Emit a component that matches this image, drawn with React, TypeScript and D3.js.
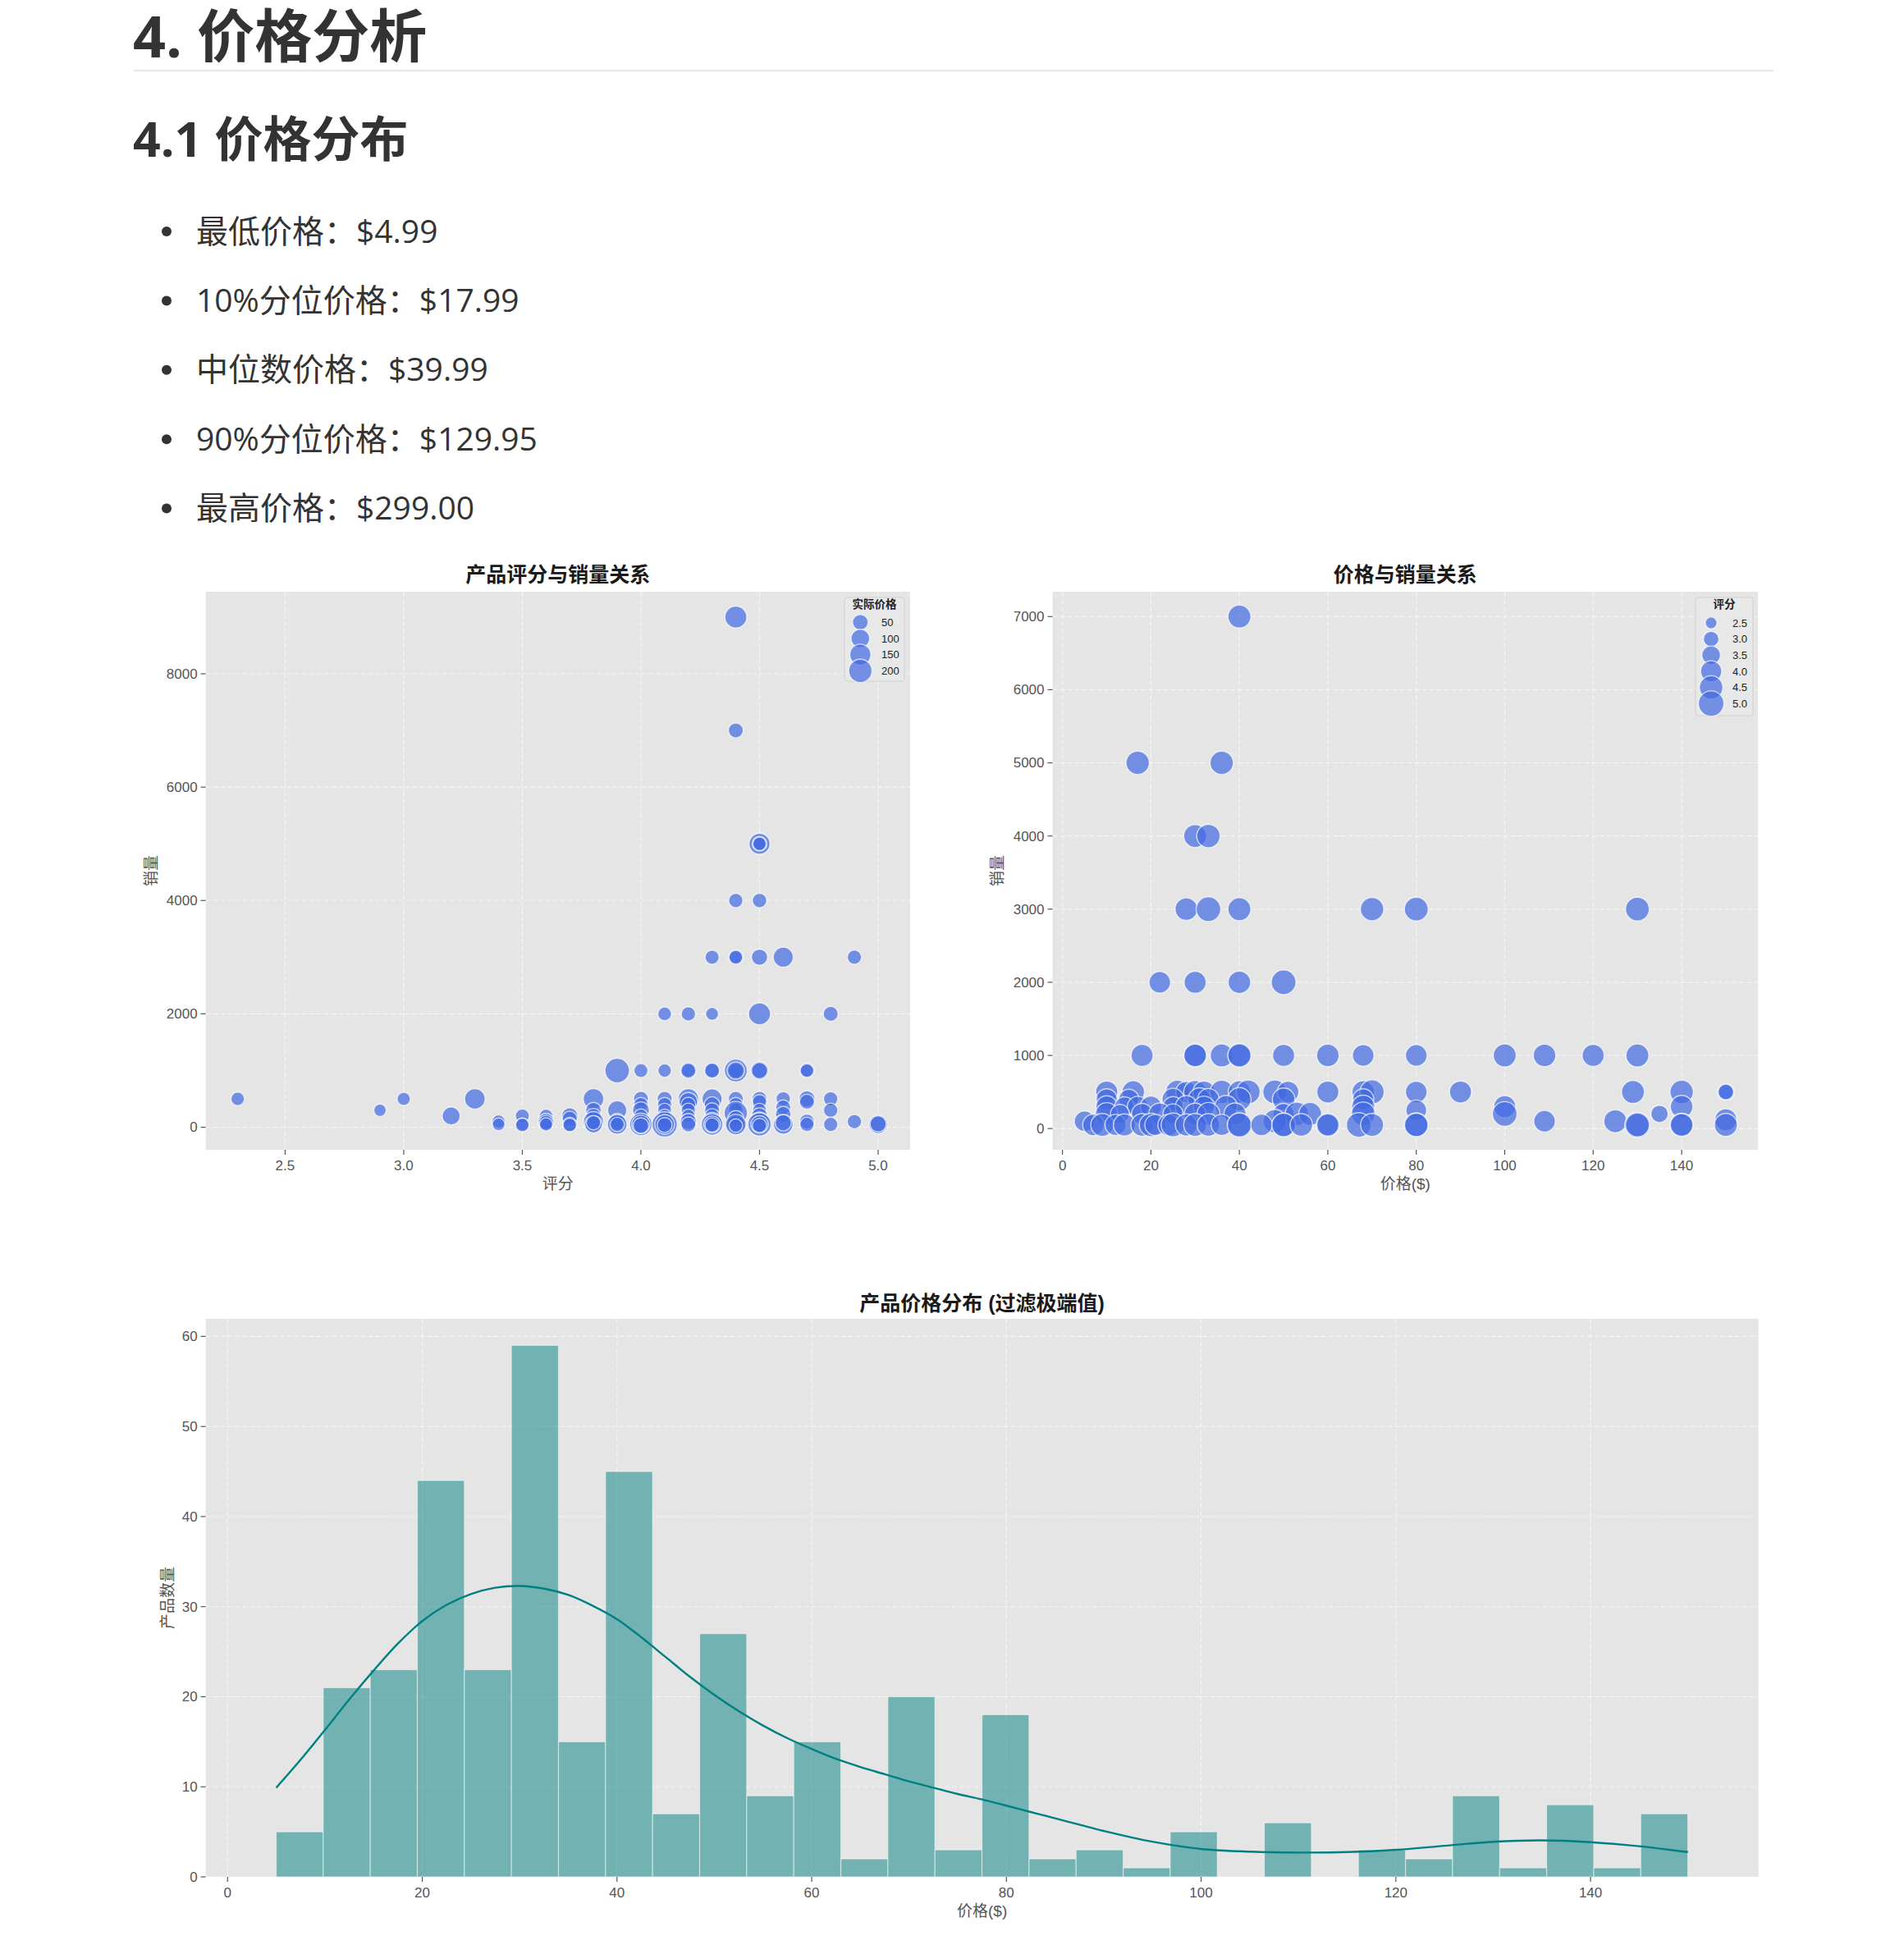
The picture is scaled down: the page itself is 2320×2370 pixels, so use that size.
import React from 'react';
import * as d3 from 'd3';

// ---------- text content ----------
const h1Text = '4. 价格分析';
const h2Text = '4.1 价格分布';
const bulletLabels = [
  '最低价格：$4.99',
  '10%分位价格：$17.99',
  '中位数价格：$39.99',
  '90%分位价格：$129.95',
  '最高价格：$299.00',
];

// ---------- scatter 1: rating vs sales, size = price ----------
// [rating, sales, price]
const ratingSalesPoints: [number, number, number][] = [
  [4.4, 9000, 170], [4.4, 7000, 40],
  [4.5, 5000, 150], [4.5, 5000, 36], [4.5, 5000, 17],
  [4.4, 4000, 30], [4.5, 4000, 33],
  [4.3, 3000, 28], [4.4, 3000, 40], [4.4, 3000, 22], [4.5, 3000, 60], [4.6, 3000, 130], [4.9, 3000, 30],
  [4.1, 2000, 22], [4.2, 2000, 30], [4.3, 2000, 10], [4.5, 2000, 170], [4.8, 2000, 40],
  [3.9, 1000, 230], [4.0, 1000, 25], [4.1, 1000, 18], [4.2, 1000, 60], [4.2, 1000, 36], [4.3, 1000, 30],
  [4.3, 1000, 40], [4.4, 1000, 190], [4.4, 1000, 50], [4.4, 1000, 80], [4.5, 1000, 90], [4.5, 1000, 60],
  [4.7, 1000, 35], [4.7, 1000, 20],
  [2.3, 500, 20], [2.9, 300, 5], [3.0, 500, 15], [3.2, 200, 90], [3.3, 500, 140],
  [3.4, 100, 15], [3.4, 50, 8],
  [3.5, 200, 25], [3.5, 50, 12], [3.5, 40, 20],
  [3.6, 200, 20], [3.6, 100, 60], [3.6, 80, 35], [3.6, 50, 15],
  [3.7, 200, 60], [3.7, 150, 40], [3.7, 50, 30], [3.7, 40, 20],
  [3.8, 500, 140], [3.8, 300, 50], [3.8, 200, 40], [3.8, 100, 130], [3.8, 50, 80], [3.8, 80, 30],
  [3.9, 300, 110], [3.9, 100, 60], [3.9, 50, 120], [3.9, 50, 30],
  [4.0, 500, 40], [4.0, 400, 30], [4.0, 300, 70], [4.0, 200, 25], [4.0, 50, 180], [4.0, 50, 100], [4.0, 30, 50],
  [4.1, 500, 40], [4.1, 400, 30], [4.1, 300, 25], [4.1, 200, 20], [4.1, 100, 35], [4.1, 50, 250], [4.1, 50, 120], [4.1, 40, 40],
  [4.2, 500, 140], [4.2, 450, 100], [4.2, 400, 35], [4.2, 300, 30], [4.2, 200, 20], [4.2, 100, 60], [4.2, 50, 40],
  [4.3, 500, 130], [4.3, 400, 50], [4.3, 300, 40], [4.3, 200, 35], [4.3, 100, 100], [4.3, 50, 160], [4.3, 50, 70], [4.3, 40, 30],
  [4.4, 500, 40], [4.4, 400, 30], [4.4, 300, 35], [4.4, 250, 200], [4.4, 150, 60], [4.4, 50, 100], [4.4, 50, 140], [4.4, 30, 20],
  [4.5, 500, 40], [4.5, 450, 30], [4.5, 300, 25], [4.5, 200, 60], [4.5, 100, 110], [4.5, 50, 200], [4.5, 50, 80], [4.5, 30, 30],
  [4.6, 500, 30], [4.6, 350, 40], [4.6, 230, 50], [4.6, 50, 120], [4.6, 80, 60],
  [4.7, 500, 60], [4.7, 450, 40], [4.7, 100, 40], [4.7, 50, 30],
  [4.8, 500, 30], [4.8, 300, 30], [4.8, 50, 30],
  [4.9, 100, 30],
  [5.0, 50, 100], [5.0, 60, 60],
];

// ---------- scatter 2: price vs sales, size = rating ----------
// [price, sales, rating]
const priceSalesPoints: [number, number, number][] = [
  [40, 7000, 4.4],
  [17, 5000, 4.5], [36, 5000, 4.5],
  [30, 4000, 4.4], [33, 4000, 4.5],
  [28, 3000, 4.3], [33, 3000, 4.8], [40, 3000, 4.4], [70, 3000, 4.5], [80, 3000, 4.6], [130, 3000, 4.6],
  [22, 2000, 4.1], [30, 2000, 4.2], [40, 2000, 4.3], [50, 2000, 4.8],
  [18, 1000, 4.2], [30, 1000, 4.4], [30, 1000, 4.3], [36, 1000, 4.4], [40, 1000, 4.3], [40, 1000, 4.5],
  [50, 1000, 4.2], [60, 1000, 4.3], [68, 1000, 4.1], [80, 1000, 4.1], [100, 1000, 4.4], [109, 1000, 4.3],
  [120, 1000, 4.2], [130, 1000, 4.4],
  [10, 500, 4.2], [16, 500, 4.3], [26, 500, 4.5], [28, 500, 4.0], [30, 500, 4.4], [32, 500, 4.2],
  [36, 500, 4.5], [40, 500, 4.3], [42, 500, 4.6], [48, 500, 4.6], [51, 500, 4.1], [60, 500, 4.2],
  [68, 500, 4.3], [70, 500, 4.7], [80, 500, 4.1], [90, 500, 4.2], [129, 500, 4.4], [140, 500, 4.5],
  [150, 500, 3.2], [150, 500, 3.0],
  [10, 400, 4.0], [15, 400, 3.8], [25, 400, 4.2], [31, 400, 4.4], [33, 400, 4.1], [40, 400, 4.5], [50, 400, 4.3], [68, 400, 4.0],
  [10, 300, 4.1], [14, 300, 3.7], [17, 300, 3.9], [20, 300, 4.0], [25, 300, 3.8], [28, 300, 4.2], [32, 300, 4.0],
  [37, 300, 4.3], [68, 300, 4.4], [80, 250, 3.9], [100, 300, 4.2], [140, 300, 4.3],
  [10, 200, 4.3], [13, 200, 3.6], [18, 200, 4.0], [22, 200, 4.2], [25, 200, 3.8], [30, 200, 4.1], [33, 200, 4.4],
  [39, 200, 4.2], [50, 200, 4.0], [53, 200, 4.5], [56, 200, 4.4], [68, 200, 4.6], [100, 200, 4.8], [135, 200, 3.3],
  [5, 100, 3.9], [48, 100, 4.5], [109, 100, 4.1], [125, 100, 4.4], [150, 120, 4.2],
  [7, 50, 4.1], [9, 50, 4.4], [12, 50, 4.0], [14, 50, 4.2], [18, 50, 4.3], [20, 50, 4.5], [21, 50, 4.0],
  [24, 50, 4.1], [25, 50, 4.6], [28, 50, 4.2], [30, 50, 4.4], [33, 50, 4.3], [36, 50, 4.0], [40, 50, 4.5],
  [40, 50, 4.7], [45, 50, 4.1], [50, 50, 4.4], [50, 50, 4.6], [54, 50, 4.3], [60, 50, 4.5], [60, 50, 4.2],
  [67, 50, 4.8], [70, 50, 4.4], [80, 50, 4.7], [80, 50, 4.5], [130, 50, 5.0], [130, 50, 4.6],
  [140, 50, 4.5], [140, 50, 4.3], [150, 50, 4.4],
];

const priceLegendValues = [50, 100, 150, 200];
const ratingLegendValues = [2.5, 3.0, 3.5, 4.0, 4.5, 5.0];

// ---------- histogram ----------
const histMin = 4.99;
const histMax = 149.99;
const binCounts = [5, 21, 23, 44, 23, 59, 15, 45, 7, 27, 9, 15, 2, 20, 3, 18, 2, 3, 1, 5, 0, 6, 0, 3, 2, 9, 1, 8, 1, 7];
const kdePoints: [number, number][] = [
  [5, 9.9], [7.5, 13.0], [10, 16.3], [12.5, 19.7], [15, 22.9], [17.5, 25.9], [20, 28.4], [22.5, 30.2],
  [25, 31.4], [27.5, 32.1], [30, 32.3], [32.5, 32.0], [35, 31.3], [37.5, 30.1], [40, 28.6], [42.5, 26.6],
  [45, 24.4], [47.5, 22.2], [50, 20.2], [52.5, 18.4], [55, 16.8], [57.5, 15.4], [60, 14.2], [62.5, 13.1],
  [65, 12.2], [67.5, 11.4], [70, 10.6], [72.5, 9.9], [75, 9.2], [77.5, 8.6], [80, 7.9], [82.5, 7.2],
  [85, 6.5], [87.5, 5.8], [90, 5.1], [95, 3.9], [100, 3.1], [105, 2.8], [110, 2.7], [115, 2.75],
  [120, 3.0], [125, 3.45], [130, 3.9], [135, 4.05], [140, 3.85], [145, 3.4], [150, 2.75],
];

const ratingTicks = [2.5, 3.0, 3.5, 4.0, 4.5, 5.0];
const sales1Ticks = [0, 2000, 4000, 6000, 8000];
const priceTicks = [0, 20, 40, 60, 80, 100, 120, 140];
const sales2Ticks = [0, 1000, 2000, 3000, 4000, 5000, 6000, 7000];
const countTicks = [0, 10, 20, 30, 40, 50, 60];

// ---------- styles ----------
const pageFont = "'Open Sans', 'Noto Sans CJK SC', sans-serif";
const chartFont = "'Liberation Sans', Arial, 'Noto Sans CJK SC', sans-serif";
const BG = '#E5E5E5';
const TICK = '#555555';
const DOT = '#4169E1';
const TEAL = '#008080';

type Frame = { left: number; top: number; right: number; bottom: number };

function Grid({ frame, x, y, xTicks, yTicks }: any) {
  return (
    <g>
      {xTicks.map((t: number) => (
        <line key={'gx' + t} x1={x(t)} x2={x(t)} y1={frame.top} y2={frame.bottom}
          stroke="#fff" strokeOpacity={0.6} strokeWidth={1.1} strokeDasharray="6,3" />
      ))}
      {yTicks.map((t: number) => (
        <line key={'gy' + t} x1={frame.left} x2={frame.right} y1={y(t)} y2={y(t)}
          stroke="#fff" strokeOpacity={0.6} strokeWidth={1.1} strokeDasharray="6,3" />
      ))}
    </g>
  );
}

function Axes({ frame, x, y, xTicks, yTicks, xFmt, title, titleY, xLabel, yLabel, yLabelX }: any) {
  const cx = (frame.left + frame.right) / 2;
  const cy = (frame.top + frame.bottom) / 2;
  return (
    <g fontFamily={chartFont}>
      {xTicks.map((t: number) => (
        <g key={'tx' + t}>
          <line x1={x(t)} x2={x(t)} y1={frame.bottom} y2={frame.bottom + 6} stroke={TICK} strokeWidth={1.2} />
          <text x={x(t)} y={frame.bottom + 25} textAnchor="middle" fontSize={17} fill={TICK}>{xFmt(t)}</text>
        </g>
      ))}
      {yTicks.map((t: number) => (
        <g key={'ty' + t}>
          <line x1={frame.left - 6} x2={frame.left} y1={y(t)} y2={y(t)} stroke={TICK} strokeWidth={1.2} />
          <text x={frame.left - 10} y={y(t)} dy="0.35em" textAnchor="end" fontSize={17} fill={TICK}>{t}</text>
        </g>
      ))}
      <text x={cx} y={titleY} textAnchor="middle" fontSize={25} fontWeight="bold" fill="#1a1a1a">{title}</text>
      <text x={cx} y={frame.bottom + 48} textAnchor="middle" fontSize={19} fill={TICK}>{xLabel}</text>
      <text transform={`translate(${yLabelX},${cy}) rotate(-90)`} textAnchor="middle" dy="0.35em" fontSize={19} fill={TICK}>{yLabel}</text>
    </g>
  );
}

function SizeLegend({ box, title, values, fmt, radius, cx, y0, step, labelX }: any) {
  return (
    <g fontFamily={chartFont}>
      <rect x={box.x} y={box.y} width={box.w} height={box.h} rx={4} fill="#E8E8E8" stroke="#D2D2D2" strokeWidth={1.2} />
      <text x={box.x + box.w / 2} y={box.y + 13} textAnchor="middle" fontSize={13.5} fontWeight="bold" fill="#222">{title}</text>
      {values.map((v: number, i: number) => (
        <g key={'lg' + v}>
          <circle cx={cx} cy={y0 + i * step} r={radius(v)} fill={DOT} fillOpacity={0.7} stroke="#fff" strokeOpacity={0.7} strokeWidth={1.3} />
          <text x={labelX} y={y0 + i * step} dy="0.35em" fontSize={13} fill="#222">{fmt(v)}</text>
        </g>
      ))}
    </g>
  );
}

function RatingSalesChart() {
  const frame: Frame = { left: 250.6, top: 721, right: 1109, bottom: 1401 };
  const x = d3.scaleLinear().domain([2.165, 5.135]).range([frame.left, frame.right]);
  const y = d3.scaleLinear().domain([-397.5, 9447.5]).range([frame.bottom, frame.top]);
  const area = d3.scaleLinear().domain([50, 200]).range([361, 801]);
  const radius = (p: number) => Math.sqrt(Math.max(area(p), 60)) / 2;
  return (
    <g>
      <rect x={frame.left} y={frame.top} width={frame.right - frame.left} height={frame.bottom - frame.top} fill={BG} />
      <Grid frame={frame} x={x} y={y} xTicks={ratingTicks} yTicks={sales1Ticks} />
      <g>
        {ratingSalesPoints.map((d, i) => (
          <circle key={i} cx={x(d[0])} cy={y(d[1])} r={radius(d[2])} fill={DOT} fillOpacity={0.7}
            stroke="#fff" strokeOpacity={0.7} strokeWidth={1.4} />
        ))}
      </g>
      <Axes frame={frame} x={x} y={y} xTicks={ratingTicks} yTicks={sales1Ticks} xFmt={(t: number) => t.toFixed(1)}
        title="产品评分与销量关系" titleY={709} xLabel="评分" yLabel="销量" yLabelX={184.5} />
      <SizeLegend box={{ x: 1029, y: 728, w: 73, h: 102 }} title="实际价格" values={priceLegendValues}
        fmt={(v: number) => String(v)} radius={radius} cx={1048.3} y0={758.3} step={19.7} labelX={1074} />
    </g>
  );
}

function PriceSalesChart() {
  const frame: Frame = { left: 1282.5, top: 721, right: 2142, bottom: 1401 };
  const x = d3.scaleLinear().domain([-2.25, 157.25]).range([frame.left, frame.right]);
  const y = d3.scaleLinear().domain([-290, 7340]).range([frame.bottom, frame.top]);
  const area = d3.scaleLinear().domain([2.5, 5.0]).range([204, 961]);
  const radius = (r: number) => Math.sqrt(Math.max(area(r), 60)) / 2;
  return (
    <g>
      <rect x={frame.left} y={frame.top} width={frame.right - frame.left} height={frame.bottom - frame.top} fill={BG} />
      <Grid frame={frame} x={x} y={y} xTicks={priceTicks} yTicks={sales2Ticks} />
      <g>
        {priceSalesPoints.map((d, i) => (
          <circle key={i} cx={x(d[0])} cy={y(d[1])} r={radius(d[2])} fill={DOT} fillOpacity={0.7}
            stroke="#fff" strokeOpacity={0.7} strokeWidth={1.4} />
        ))}
      </g>
      <Axes frame={frame} x={x} y={y} xTicks={priceTicks} yTicks={sales2Ticks} xFmt={(t: number) => String(t)}
        title="价格与销量关系" titleY={709} xLabel="价格($)" yLabel="销量" yLabelX={1215} />
      <SizeLegend box={{ x: 2066, y: 728, w: 70, h: 144 }} title="评分" values={ratingLegendValues}
        fmt={(v: number) => v.toFixed(1)} radius={radius} cx={2085} y0={759} step={19.66} labelX={2111} />
    </g>
  );
}

function HistogramChart() {
  const frame: Frame = { left: 250.6, top: 1607, right: 2142.7, bottom: 2287 };
  const x = d3.scaleLinear().domain([-2.25, 157.25]).range([frame.left, frame.right]);
  const y = d3.scaleLinear().domain([0, 61.95]).range([frame.bottom, frame.top]);
  const binW = (histMax - histMin) / binCounts.length;
  const line = d3.line<[number, number]>().x(d => x(d[0])).y(d => y(d[1])).curve(d3.curveCatmullRom);
  return (
    <g>
      <rect x={frame.left} y={frame.top} width={frame.right - frame.left} height={frame.bottom - frame.top} fill={BG} />
      <Grid frame={frame} x={x} y={y} xTicks={priceTicks} yTicks={countTicks} />
      <g>
        {binCounts.map((c, i) => {
          if (c === 0) return null;
          const x0 = x(histMin + i * binW);
          const x1 = x(histMin + (i + 1) * binW);
          return (
            <rect key={i} x={x0} y={y(c)} width={x1 - x0} height={y(0) - y(c)} fill={TEAL} fillOpacity={0.5}
              stroke="#fff" strokeOpacity={0.5} strokeWidth={1.2} />
          );
        })}
      </g>
      <path d={line(kdePoints) || ''} fill="none" stroke={TEAL} strokeWidth={2.4} />
      <Axes frame={frame} x={x} y={y} xTicks={priceTicks} yTicks={countTicks} xFmt={(t: number) => String(t)}
        title="产品价格分布 (过滤极端值)" titleY={1597} xLabel="价格($)" yLabel="产品数量" yLabelX={204.6} />
    </g>
  );
}

export default function App() {
  return (
    <svg width={2320} height={2370} viewBox="0 0 2320 2370"
      style={{ position: 'absolute', left: 0, top: 0, display: 'block', background: '#fff' }}>
      <rect x={0} y={0} width={2320} height={2370} fill="#fff" />
      <g fontFamily={pageFont} fill="#333">
        <text x={162} y={70} fontSize={70} fontWeight="bold">{h1Text}</text>
        <line x1={163} x2={2161} y1={86} y2={86} stroke="#E8E8E8" strokeWidth={2.5} />
        <text x={162} y={191} fontSize={59} fontWeight="bold">{h2Text}</text>
        {bulletLabels.map((t, i) => (
          <g key={t}>
            <circle cx={203} cy={282 + i * 84.4} r={6} fill="#333" />
            <text x={239} y={295.5 + i * 84.4} fontSize={39}>{t}</text>
          </g>
        ))}
      </g>
      <RatingSalesChart />
      <PriceSalesChart />
      <HistogramChart />
    </svg>
  );
}
